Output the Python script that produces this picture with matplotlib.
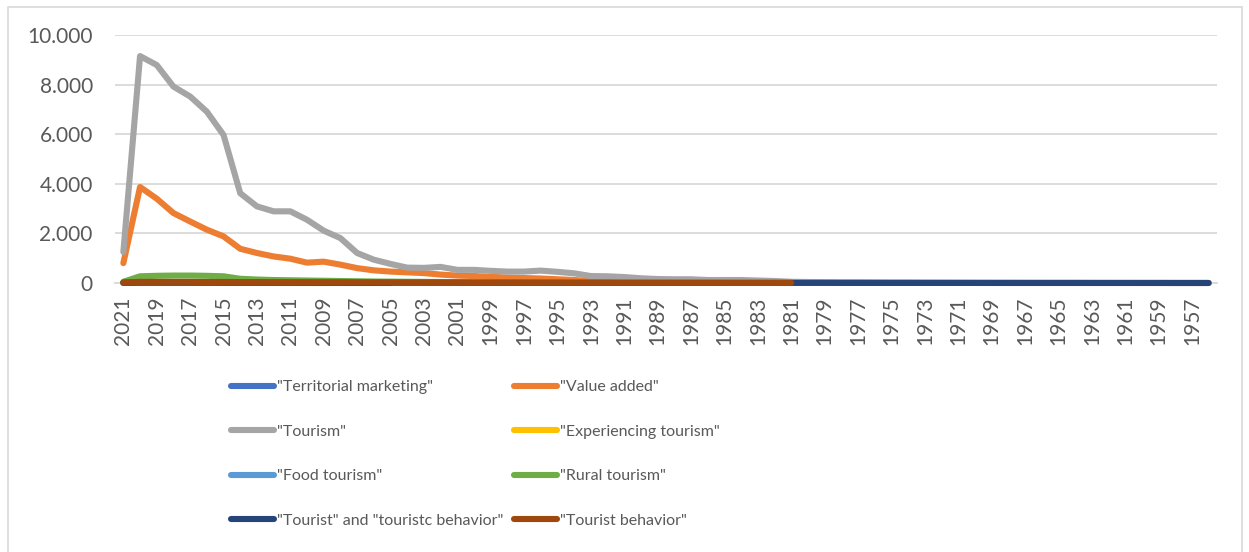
import numpy as np
import matplotlib
matplotlib.use("Agg")
import matplotlib.pyplot as plt
from matplotlib.lines import Line2D
from matplotlib.patches import Rectangle
from matplotlib.ticker import FuncFormatter

plt.rcParams['font.family'] = ['Lato', 'DejaVu Sans']

years = list(range(2021, 1955, -1))  # 2021 .. 1956

tourism = [1250, 9150, 8790, 7920, 7520, 6910, 5970, 3620, 3090, 2890,
           2890, 2550, 2110, 1810, 1210, 940, 770, 620, 610, 650,
           530, 530, 490, 460, 460, 500, 450, 390, 280, 270,
           240, 190, 160, 150, 150, 120, 120, 120, 100, 80,
           50, 40, 35, 30, 30, 25, 20, 20, 15, 15,
           12, 10, 10, 8, 8, 6, 5, 5, 4, 3,
           3, 2, 2, 1, 1, 1]
value_added = [800, 3870, 3400, 2820, 2480, 2150, 1880, 1380, 1210, 1070,
               980, 820, 860, 740, 600, 510, 460, 430, 400, 340,
               300, 280, 250, 220, 200, 180, 150, 120, 80, 70,
               60, 50, 45, 40, 35, 30, 25, 22, 20, 15,
               12, 10, 10, 8, 8, 6, 5, 5, 4, 3,
               3, 2, 2, 2, 1, 1, 1, 1, 0, 0,
               0, 0, 0, 0, 0, 0]
rural_tourism = [50, 270, 290, 300, 300, 290, 270, 170, 140, 120,
                 110, 100, 90, 80, 70, 60, 55, 50, 45, 40,
                 35, 30, 28, 25, 22, 20, 18, 16, 14, 12,
                 10, 9, 8, 7, 6, 5, 4, 3, 2, 2, 1]
tourist_behavior = [20, 45, 45, 45, 45, 40, 40, 35, 35, 30,
                    30, 30, 28, 26, 25, 24, 22, 20, 20, 18,
                    18, 16, 15, 14, 14, 12, 12, 10, 10, 9,
                    8, 8, 7, 6, 6, 5, 5, 4, 4, 3, 3]
tourist_and_behavior = [10, 15, 15, 15, 14, 14, 13, 12, 12, 11,
                        11, 10, 10, 10, 9, 9, 9, 8, 8, 8,
                        8, 7, 7, 7, 7, 6, 6, 6, 6, 6,
                        5, 5, 5, 5, 5, 5, 4, 4, 4, 4,
                        4, 4, 4, 3, 3, 3, 3, 3, 3, 3,
                        3, 3, 2, 2, 2, 2, 2, 2, 2, 2,
                        2, 2, 2, 1, 1, 1]
territorial_marketing = [5, 8, 8, 7, 7, 6, 6, 5, 5, 4, 4, 3, 3, 2, 2, 1, 1]
experiencing_tourism = [3, 6, 6, 5, 5, 4, 4, 3, 3, 2, 2, 1, 1]
food_tourism = [4, 9, 9, 8, 7, 6, 5, 4, 3, 3, 2, 2, 1, 1]

series = [
    ('"Territorial marketing"', territorial_marketing, '#4472C4'),
    ('"Value added"', value_added, '#ED7D31'),
    ('"Tourism"', tourism, '#A5A5A5'),
    ('"Experiencing tourism"', experiencing_tourism, '#FFC000'),
    ('"Food tourism"', food_tourism, '#5B9BD5'),
    ('"Rural tourism"', rural_tourism, '#70AD47'),
    ('"Tourist" and "touristc behavior"', tourist_and_behavior, '#264478'),
    ('"Tourist behavior"', tourist_behavior, '#9E480E'),
]


def pad(vals):
    return np.array(list(vals) + [np.nan] * (len(years) - len(vals)), dtype=float)


W, H = 1249, 552
LW = 4.4
fig = plt.figure(figsize=(W / 100, H / 100), dpi=100)
ax = fig.add_axes([115 / W, 1 - 283 / H, (1217 - 115) / W, (283 - 35) / H])

# outer chart border
fig.patches.append(Rectangle((8 / W, -0.02), (1242 - 8) / W, (552 - 7) / H + 0.02,
                             transform=fig.transFigure, fill=False,
                             edgecolor='#d9d9d9', linewidth=1.2))

x = np.arange(len(years))
for name, vals, color in series:
    ax.plot(x, pad(vals), color=color, linewidth=LW, label=name, zorder=3,
            solid_joinstyle='round', solid_capstyle='round', clip_on=False)

ax.set_xlim(-0.5, len(years) - 0.5)
ax.set_ylim(0, 10000)
ax.set_yticks(range(0, 10001, 2000))
ax.yaxis.set_major_formatter(FuncFormatter(lambda v, p: f"{v:,.0f}".replace(',', '.')))
ax.set_xticks(x[::2])
ax.set_xticklabels([str(y) for y in years[::2]], rotation=90)

ax.grid(axis='y', color='#d9d9d9', linewidth=1.3)
ax.set_axisbelow(True)
for s in ['top', 'right', 'left']:
    ax.spines[s].set_visible(False)
ax.spines['bottom'].set_color('#d9d9d9')
ax.spines['bottom'].set_linewidth(1.3)
ax.spines['bottom'].set_zorder(1)
ax.tick_params(axis='y', length=0, pad=16, labelsize=15, labelcolor='#595959')
ax.tick_params(axis='x', length=0, pad=10, labelsize=15, labelcolor='#595959')


# legend: two columns, drawn as two separate legends
def make_handle(color):
    return Line2D([], [], color=color, linewidth=LW, solid_capstyle='round')


left = [0, 2, 4, 6]
right = [1, 3, 5, 7]
for idx, xpos in [(left, 231), (right, 514)]:
    leg = fig.legend([make_handle(series[i][2]) for i in idx],
                     [series[i][0] for i in idx],
                     loc='upper left', bbox_to_anchor=(xpos / W, 1 - 380 / H),
                     frameon=False, fontsize=11.5, handlelength=2.7,
                     handletextpad=0.2, labelspacing=1.9, borderpad=0,
                     borderaxespad=0)
    for t in leg.get_texts():
        t.set_color('#595959')

fig.savefig('out.png', dpi=100)
